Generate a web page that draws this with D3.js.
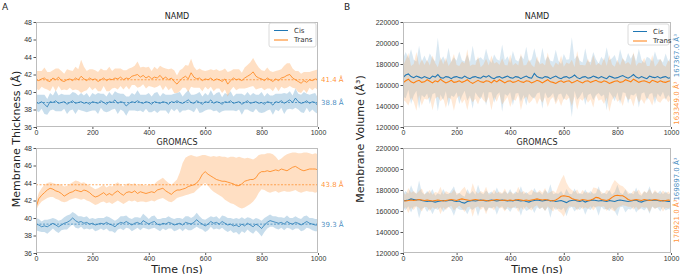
<!DOCTYPE html>
<html>
<head>
<meta charset="utf-8">
<title>Membrane thickness and volume</title>
<style>
  body { margin: 0; background: #fff; }
  svg { display: block; font-family: "DejaVu Sans", sans-serif; }
  .tick text { font-size: 7px; fill: #333; }
  .tick line { stroke: #555; }
  .frame { fill: none; stroke: #bdbdbd; stroke-width: 1; }
  .title { font-size: 8px; fill: #222; }
  .axlabel { font-size: 11px; fill: #222; }
  .panel { font-size: 9px; fill: #222; }
  .legend text { font-size: 7px; fill: #333; }
</style>
</head>
<body>
<div id="chart"></div>
<script src="https://cdnjs.cloudflare.com/ajax/libs/d3/7.8.5/d3.min.js"></script>
<script>

// sampling grid, ns
var timeNs = d3.range(0, 1001, 10);
var thicknessTicks = [36, 38, 40, 42, 44, 46, 48];
var volumeTicks = [120000, 140000, 160000, 180000, 200000, 220000];
var timeTicks = [0, 200, 400, 600, 800, 1000];
var seriesNames = ["Cis", "Trans"];

// A - NAMD thickness (Å)
var namdCisThick = [
  38.8, 38.7, 38.9, 38.6, 38.3, 38.9, 38.8, 39.0, 38.7, 38.8,
  38.9, 38.6, 38.8, 39.0, 38.7, 38.8, 38.9, 38.7, 38.8, 38.6,
  38.9, 38.8, 38.7, 39.0, 38.8, 38.6, 38.9, 38.8, 39.1, 38.7,
  38.9, 38.8, 38.4, 38.7, 38.9, 38.8, 39.0, 38.8, 38.7, 38.9,
  38.8, 38.6, 38.9, 38.8, 38.7, 38.9, 38.8, 38.6, 38.9, 38.8,
  39.0, 38.8, 38.7, 38.9, 39.1, 38.8, 38.7, 39.0, 38.8, 38.6,
  38.9, 38.8, 39.1, 38.7, 38.9, 38.8, 38.6, 38.9, 38.8, 39.0,
  38.7, 38.8, 38.9, 38.6, 38.8, 39.0, 38.7, 38.8, 38.9, 38.7,
  38.8, 38.6, 38.9, 38.8, 38.5, 38.9, 38.8, 39.0, 38.7, 38.9,
  39.1, 38.8, 39.3, 38.9, 38.7, 38.8, 39.0, 38.7, 38.9, 38.8, 38.4
];
var namdCisThickSd = [
  0.9, 1.0, 0.8, 1.1, 0.9, 1.0, 0.8, 1.2, 0.9, 1.0,
  0.8, 1.1, 0.9, 1.0, 1.2, 0.8, 1.0, 0.9, 1.1, 0.8,
  1.0, 0.9, 1.2, 0.8, 1.0, 0.9, 1.1, 0.8, 1.0, 1.2,
  0.9, 1.0, 1.1, 0.8, 1.0, 0.9, 1.2, 0.9, 1.0, 0.8,
  1.1, 0.9, 1.0, 1.2, 0.8, 1.0, 0.9, 1.1, 0.8, 1.0,
  0.9, 1.2, 0.8, 1.0, 1.1, 0.9, 1.0, 0.8, 1.2, 0.9,
  1.0, 0.8, 1.1, 0.9, 1.0, 1.2, 0.8, 1.0, 0.9, 1.1,
  0.8, 1.0, 0.9, 1.2, 0.8, 1.0, 0.9, 1.1, 0.8, 1.0,
  1.2, 0.9, 1.0, 0.8, 1.1, 0.9, 1.0, 0.8, 1.2, 0.9,
  1.0, 0.8, 1.1, 0.9, 1.0, 1.2, 0.8, 1.0, 0.9, 1.1, 0.9
];
var namdTransThick = [
  41.4, 41.3, 41.5, 41.6, 41.3, 41.2, 41.6, 41.4, 41.7, 41.3,
  41.2, 41.4, 41.5, 41.3, 41.6, 41.4, 41.8, 41.5, 41.3, 41.6,
  41.4, 41.5, 41.2, 41.4, 41.6, 41.3, 41.5, 41.4, 41.6, 41.5,
  41.7, 41.4, 41.6, 41.5, 41.8, 41.9, 42.0, 41.7, 41.9, 41.6,
  41.8, 41.5, 41.7, 41.6, 41.9, 41.5, 41.7, 41.4, 41.6, 41.2,
  40.9, 41.3, 41.6, 41.8, 41.5, 42.2, 41.7, 41.5, 41.6, 41.3,
  41.5, 41.4, 41.6, 41.3, 41.5, 41.4, 41.2, 41.5, 40.9, 41.3,
  41.6, 41.4, 41.5, 41.3, 41.6, 41.8, 42.0, 42.3, 41.8, 41.6,
  41.5, 41.3, 41.6, 41.4, 41.2, 41.5, 41.3, 41.6, 41.7, 41.9,
  42.0, 41.6, 41.4, 41.2, 41.0, 41.3, 41.1, 41.4, 41.3, 41.5, 41.4
];
var namdTransThickSd = [
  1.0, 1.1, 0.9, 1.2, 1.0, 1.1, 0.9, 1.3, 1.0, 1.1,
  0.9, 1.2, 1.0, 1.1, 1.3, 1.2, 1.9, 1.4, 1.1, 1.0,
  1.2, 1.0, 1.1, 1.3, 0.9, 1.2, 1.4, 1.0, 1.1, 1.2,
  1.0, 1.1, 0.9, 1.2, 1.0, 1.1, 1.5, 1.1, 1.0, 1.2,
  1.1, 0.9, 1.2, 1.0, 1.1, 1.3, 1.0, 1.2, 1.1, 1.3,
  1.0, 1.2, 1.1, 1.3, 1.5, 1.6, 1.2, 1.0, 1.1, 1.2,
  0.9, 1.1, 1.0, 1.2, 1.1, 1.0, 1.3, 1.2, 1.4, 1.1,
  1.0, 1.2, 1.1, 0.9, 1.2, 1.3, 1.4, 1.6, 1.5, 1.2,
  1.0, 1.1, 1.2, 1.0, 1.1, 0.9, 1.2, 1.0, 1.3, 1.4,
  1.3, 1.1, 1.0, 1.2, 1.1, 1.0, 1.2, 0.9, 1.1, 1.0, 1.2
];

// A - GROMACS thickness (Å)
var gmxCisThick = [
  39.3, 39.2, 39.0, 39.1, 39.0, 39.2, 39.4, 39.2, 39.0, 39.2,
  39.4, 39.5, 39.7, 40.0, 39.7, 39.5, 39.6, 39.4, 39.5, 39.3,
  39.4, 39.2, 39.3, 39.4, 39.3, 39.5, 39.3, 39.2, 39.0, 39.3,
  39.5, 39.4, 39.6, 39.4, 39.2, 39.4, 39.5, 39.3, 39.7, 39.5,
  39.3, 39.5, 39.6, 39.3, 39.2, 39.4, 39.3, 39.5, 39.4, 39.2,
  39.3, 39.4, 39.2, 39.5, 39.4, 39.3, 39.5, 39.8, 39.5, 39.3,
  39.1, 39.3, 39.6, 39.4, 39.5, 39.3, 39.6, 39.4, 39.2, 39.3,
  39.1, 39.2, 39.0, 39.3, 39.1, 39.4, 39.2, 39.0, 39.3, 39.1,
  38.8, 39.2, 39.5, 39.7, 39.6, 39.5, 39.4, 39.5, 39.3, 39.6,
  39.4, 39.3, 39.5, 39.4, 39.2, 39.4, 39.6, 39.4, 39.3, 39.2, 39.2
];
var gmxCisThickSd = [
  0.7, 0.7, 0.6, 0.7, 0.8, 0.7, 0.6, 0.7, 0.7, 0.6,
  0.7, 0.8, 0.7, 0.7, 0.8, 0.7, 0.6, 0.7, 0.7, 0.6,
  0.6, 0.7, 0.7, 0.6, 0.7, 0.7, 0.8, 0.7, 0.7, 0.6,
  0.7, 0.8, 0.7, 0.6, 0.7, 0.7, 0.6, 0.7, 0.8, 0.7,
  0.6, 0.7, 0.7, 0.6, 0.7, 0.6, 0.7, 0.7, 0.6, 0.7,
  0.7, 0.6, 0.7, 0.7, 0.8, 0.7, 0.7, 0.8, 0.7, 0.6,
  0.7, 0.7, 0.6, 0.7, 0.7, 0.6, 0.7, 0.8, 0.8, 0.7,
  0.8, 0.8, 0.9, 0.8, 0.8, 0.7, 0.8, 0.8, 0.7, 0.8,
  0.9, 0.8, 0.7, 0.7, 0.6, 0.7, 0.7, 0.6, 0.7, 0.7,
  0.6, 0.7, 0.7, 0.6, 0.7, 0.8, 0.7, 0.6, 0.7, 0.7, 0.7
];
var gmxTransThick = [
  41.2, 42.2, 42.6, 42.9, 43.2, 43.4, 43.3, 43.1, 43.0, 42.8,
  42.5, 42.7, 42.9, 43.0, 43.2, 43.1, 43.0, 43.2, 43.1, 42.9,
  42.6, 42.4, 42.5, 42.7, 42.9, 42.6, 42.8, 42.6, 42.9, 43.1,
  42.8, 42.6, 42.9, 43.0, 42.9, 43.1, 42.8, 43.0, 42.9, 42.8,
  42.9, 43.0, 42.9, 43.2, 43.3, 43.4, 43.1, 42.9, 42.7, 43.0,
  43.2, 43.2, 43.3, 43.4, 43.6, 43.7, 43.8, 44.0, 44.4, 45.0,
  45.3, 45.0, 44.8, 44.6, 44.4, 44.3, 44.2, 44.2, 44.1, 44.0,
  43.9, 43.7, 43.7, 43.9, 44.2, 44.3, 44.4, 44.4, 44.6, 45.1,
  45.3, 45.3, 45.4, 45.3, 45.4, 45.5, 45.4, 45.6, 45.5, 45.4,
  45.6, 45.8, 45.9, 45.7, 45.5, 45.4, 45.5, 45.6, 45.6, 45.6, 45.5
];
var gmxTransThickLo = [
  40.9, 41.5, 41.9, 42.1, 42.3, 42.4, 42.4, 42.2, 42.1, 41.9,
  41.8, 41.9, 42.1, 42.2, 42.3, 42.2, 42.1, 42.2, 42.0, 41.9,
  41.7, 41.5, 41.6, 41.8, 41.9, 41.7, 41.8, 41.6, 41.8, 42.0,
  41.8, 41.6, 41.8, 42.0, 41.9, 42.0, 41.8, 41.9, 41.9, 41.8,
  41.9, 42.0, 41.9, 42.1, 42.2, 42.3, 42.1, 41.9, 41.8, 42.0,
  42.3, 42.4, 42.5, 42.6, 42.7, 42.8, 42.9, 43.2, 43.5, 43.8,
  44.0, 43.7, 43.3, 43.0, 42.8, 42.6, 42.4, 42.1, 41.9, 41.7,
  41.6, 41.4, 41.2, 41.1, 41.2, 41.4, 41.6, 41.9, 42.3, 42.9,
  43.3, 43.2, 43.0, 42.9, 43.0, 43.1, 42.9, 43.0, 43.1, 43.0,
  43.0, 43.1, 43.2, 43.0, 42.9, 43.0, 43.1, 43.0, 43.0, 42.9, 43.0
];
var gmxTransThickHi = [
  41.8, 42.9, 43.4, 43.8, 44.0, 44.1, 44.0, 43.9, 43.9, 43.8,
  43.6, 43.7, 43.9, 44.1, 44.3, 44.2, 44.0, 44.1, 43.9, 43.7,
  43.5, 43.3, 43.4, 43.6, 43.8, 43.5, 43.7, 43.6, 43.9, 44.1,
  43.8, 43.6, 43.9, 44.0, 43.8, 44.0, 43.7, 43.9, 43.8, 43.7,
  43.8, 43.9, 43.9, 44.2, 44.4, 44.6, 44.3, 44.0, 43.8, 44.1,
  44.4, 45.2, 46.3, 46.9, 47.1, 47.2, 47.1, 47.0, 47.1, 47.2,
  47.2, 47.1, 47.0, 47.1, 47.0, 47.1, 47.0, 47.0, 46.9, 47.0,
  47.0, 46.9, 47.0, 46.9, 46.8, 46.9, 46.8, 46.7, 46.9, 47.2,
  47.3, 47.3, 47.4, 47.4, 47.3, 47.0, 46.6, 46.8, 47.1, 47.3,
  47.4, 47.5, 47.5, 47.4, 47.4, 47.5, 47.5, 47.4, 47.3, 47.4, 47.3
];

// B - NAMD volume (Å³)
var namdCisVol = [
  167000, 169500, 170500, 168000, 167000, 168500, 167500, 166500, 168000, 167000,
  166000, 168500, 167500, 170000, 167000, 166500, 168000, 167500, 166000, 167500,
  168000, 167000, 166500, 168500, 167000, 166000, 167500, 168000, 167000, 166500,
  168500, 167500, 169000, 167000, 166000, 167500, 168000, 166500, 167500, 168500,
  167000, 166500, 168000, 167500, 166000, 167500, 168500, 167000, 166500, 171000,
  168000, 167000, 166500, 168000, 167500, 166000, 167500, 168500, 167000, 166000,
  167500, 168000, 166500, 167500, 169500, 167000, 166000, 167500, 168000, 166500,
  167000, 168500, 167500, 166500, 168000, 167000, 166000, 168500, 167500, 166500,
  167000, 168000, 169000, 167500, 166500, 168000, 170000, 167500, 166500, 168000,
  167000, 166000, 168500, 167500, 167000, 168000, 166500, 167500, 168000, 166500, 167000
];
var namdCisVolSd = [
  18000, 22000, 15000, 26000, 17000, 14000, 30000, 16000, 20000, 15000,
  24000, 17000, 15000, 35000, 16000, 21000, 14000, 28000, 16000, 19000,
  15000, 25000, 17000, 14000, 22000, 16000, 30000, 15000, 18000, 20000,
  15000, 27000, 16000, 14000, 23000, 17000, 15000, 32000, 16000, 19000,
  14000, 26000, 16000, 15000, 22000, 17000, 28000, 15000, 18000, 24000,
  16000, 14000, 29000, 15000, 20000, 17000, 15000, 25000, 16000, 14000,
  22000, 16000, 18000, 38000, 15000, 21000, 17000, 14000, 27000, 16000,
  15000, 23000, 17000, 14000, 19000, 16000, 30000, 15000, 18000, 22000,
  14000, 26000, 16000, 15000, 24000, 17000, 20000, 15000, 28000, 16000,
  14000, 21000, 17000, 15000, 25000, 16000, 18000, 14000, 22000, 16000, 20000
];
var namdTransVol = [
  162000, 164000, 165500, 163000, 162000, 163500, 164500, 162500, 163000, 165000,
  163500, 162000, 164000, 163000, 165500, 163500, 162000, 163000, 164500, 162500,
  163000, 164000, 162500, 163500, 165000, 163000, 161500, 163000, 164500, 163000,
  162500, 164000, 163500, 162000, 164500, 163000, 165000, 163500, 162000, 163500,
  164000, 162500, 163000, 164500, 163000, 162500, 164000, 163500, 162000, 163000,
  164500, 163500, 162000, 163500, 165000, 163000, 162500, 161500, 163000, 164000,
  162500, 163500, 164000, 162000, 163000, 164500, 163000, 162000, 163500, 164000,
  162500, 163500, 164500, 163000, 162500, 164000, 163000, 161500, 162500, 163500,
  164000, 162500, 163000, 165000, 164000, 163000, 165500, 164000, 162500, 163500,
  164000, 163000, 162000, 164500, 163500, 162500, 164000, 163000, 162500, 163500, 164000
];
var namdTransVolSd = [
  16000, 20000, 25000, 15000, 18000, 28000, 14000, 22000, 16000, 19000,
  15000, 26000, 17000, 14000, 21000, 16000, 24000, 15000, 18000, 27000,
  16000, 14000, 20000, 17000, 29000, 15000, 18000, 16000, 23000, 14000,
  17000, 21000, 15000, 26000, 16000, 19000, 14000, 22000, 17000, 15000,
  25000, 16000, 18000, 14000, 27000, 16000, 15000, 21000, 17000, 14000,
  23000, 16000, 19000, 15000, 26000, 17000, 14000, 20000, 16000, 24000,
  15000, 18000, 16000, 22000, 14000, 28000, 16000, 17000, 15000, 21000,
  16000, 25000, 14000, 18000, 16000, 22000, 15000, 27000, 17000, 14000,
  20000, 16000, 23000, 15000, 18000, 16000, 26000, 14000, 19000, 17000,
  22000, 15000, 16000, 24000, 14000, 18000, 21000, 16000, 15000, 20000, 17000
];

// B - GROMACS volume (Å³)
var gmxCisVol = [
  169500, 170000, 170500, 171500, 171000, 170500, 171000, 170000, 169500, 169000,
  169500, 169000, 168500, 169000, 169500, 170000, 169500, 170000, 170500, 169500,
  169000, 169500, 168000, 167500, 169000, 169500, 170000, 169500, 170000, 170500,
  170000, 169500, 170000, 170500, 170000, 169500, 170000, 170500, 170000, 169500,
  170000, 169500, 170500, 170000, 169500, 170000, 169000, 168500, 169500, 170000,
  170500, 170000, 169500, 170000, 170500, 169500, 170000, 169000, 169500, 170000,
  169000, 168000, 169500, 170000, 170500, 169500, 169000, 170000, 168500, 169500,
  170000, 170500, 170000, 169500, 170000, 169500, 169000, 170000, 169500, 169000,
  170000, 170500, 170000, 169500, 169000, 169500, 170000, 170500, 169000, 168500,
  169500, 170000, 170500, 170000, 170500, 170000, 169500, 170000, 169500, 169000, 169000
];
var gmxCisVolSd = [
  7000, 9000, 6000, 13000, 7000, 6000, 18000, 8000, 6000, 10000,
  7000, 12000, 6000, 8000, 6000, 11000, 7000, 6000, 9000, 14000,
  6000, 8000, 7000, 6000, 12000, 7000, 9000, 6000, 15000, 7000,
  6000, 10000, 7000, 8000, 6000, 13000, 7000, 6000, 9000, 7000,
  11000, 6000, 8000, 7000, 14000, 6000, 9000, 7000, 6000, 12000,
  7000, 8000, 6000, 10000, 7000, 16000, 6000, 8000, 7000, 9000,
  6000, 13000, 7000, 6000, 11000, 7000, 8000, 6000, 12000, 7000,
  9000, 6000, 7000, 14000, 6000, 8000, 7000, 10000, 6000, 9000,
  15000, 7000, 6000, 11000, 7000, 8000, 6000, 12000, 7000, 6000,
  9000, 7000, 13000, 6000, 8000, 7000, 10000, 6000, 9000, 7000, 8000
];
var gmxTransVol = [
  170000, 169500, 170000, 170500, 170000, 170500, 171000, 170500, 170000, 170500,
  170000, 169500, 170000, 170500, 170000, 169500, 170000, 170500, 171000, 170500,
  170000, 171000, 171500, 171000, 170500, 170000, 170500, 171000, 170500, 170000,
  170500, 170000, 169500, 170000, 170500, 171000, 170500, 170000, 170500, 170000,
  170500, 170000, 170500, 171000, 170500, 170000, 170500, 170000, 170500, 171000,
  171500, 171000, 170500, 171000, 170500, 170000, 169500, 170500, 172000, 174000,
  174500, 174000, 173500, 172000, 171000, 170500, 170000, 171000, 170500, 170000,
  170500, 171500, 173000, 172500, 171000, 170500, 170000, 171000, 173000, 174500,
  175000, 174500, 174500, 173000, 171000, 170000, 170500, 171000, 170500, 170000,
  171000, 170500, 170000, 170500, 171000, 170500, 170000, 169500, 170000, 170500, 170000
];
var gmxTransVolSd = [
  8000, 6000, 12000, 7000, 9000, 6000, 8000, 11000, 6000, 7000,
  10000, 6000, 8000, 7000, 13000, 6000, 9000, 7000, 6000, 10000,
  7000, 6000, 9000, 12000, 7000, 6000, 16000, 8000, 6000, 9000,
  7000, 13000, 6000, 7000, 10000, 6000, 8000, 7000, 11000, 6000,
  8000, 7000, 6000, 12000, 7000, 9000, 6000, 8000, 10000, 7000,
  6000, 9000, 7000, 11000, 6000, 8000, 10000, 7000, 12000, 16000,
  20000, 13000, 9000, 8000, 7000, 10000, 6000, 9000, 7000, 8000,
  6000, 11000, 9000, 8000, 7000, 6000, 10000, 8000, 12000, 15000,
  12000, 10000, 9000, 8000, 7000, 6000, 9000, 7000, 10000, 6000,
  8000, 7000, 11000, 6000, 9000, 7000, 6000, 10000, 7000, 8000, 6000
];

// averages printed next to each plot: [cis, trans]
var namdThickMeans = [38.8, 41.4];
var gmxThickMeans = [39.3, 43.8];
var namdVolMeans = [167367.0, 163349.0];
var gmxVolMeans = [169897.0, 170921.0];

var blue = "#1f77b4", orange = "#ff7f0e";

var svg = d3.select("#chart").append("svg")
  .attr("width", 680)
  .attr("height", 274);

function rows(mean, sd, lo, hi) {
  return timeNs.map(function(t, i) {
    return {
      t: t,
      v: mean[i],
      lo: lo ? lo[i] : mean[i] - sd[i],
      hi: hi ? hi[i] : mean[i] + sd[i]
    };
  });
}

function drawPlot(p) {
  var x = d3.scaleLinear().domain([0, 1000]).range([p.left, p.right]);
  var y = d3.scaleLinear().domain(p.yDomain).range([p.bottom, p.top]);
  var g = svg.append("g");

  var clipId = "clip" + p.id;
  svg.append("clipPath").attr("id", clipId)
    .append("rect")
    .attr("x", p.left).attr("y", p.top)
    .attr("width", p.right - p.left).attr("height", p.bottom - p.top);

  var plot = g.append("g").attr("clip-path", "url(#" + clipId + ")");

  var area = d3.area()
    .x(function(d) { return x(d.t); })
    .y0(function(d) { return y(d.lo); })
    .y1(function(d) { return y(d.hi); });
  var line = d3.line()
    .x(function(d) { return x(d.t); })
    .y(function(d) { return y(d.v); });

  p.series.forEach(function(s) {
    plot.append("path")
      .datum(s.data)
      .attr("d", area)
      .attr("fill", s.color)
      .attr("fill-opacity", p.bandOpacity);
  });

  if (p.dashed) {
    p.series.forEach(function(s) {
      plot.append("line")
        .attr("x1", p.left).attr("x2", p.right)
        .attr("y1", y(s.mean)).attr("y2", y(s.mean))
        .attr("stroke", s.color)
        .attr("stroke-opacity", 0.8)
        .attr("stroke-width", 0.8)
        .attr("stroke-dasharray", "2,1.5");
    });
  }

  p.series.forEach(function(s) {
    plot.append("path")
      .datum(s.data)
      .attr("d", line)
      .attr("fill", "none")
      .attr("stroke", s.color)
      .attr("stroke-opacity", p.lineOpacity)
      .attr("stroke-width", p.lineWidth);
  });

  g.append("g")
    .attr("transform", "translate(0," + p.bottom + ")")
    .call(d3.axisBottom(x).tickValues(timeTicks).tickSize(2).tickPadding(1).tickFormat(d3.format("d")))
    .call(function(a) { a.select(".domain").remove(); });

  g.append("g")
    .attr("transform", "translate(" + p.left + ",0)")
    .call(d3.axisLeft(y).tickValues(p.yTicks).tickSize(2.5).tickPadding(1.5).tickFormat(d3.format("d")))
    .call(function(a) { a.select(".domain").remove(); });

  g.append("rect")
    .attr("class", "frame")
    .attr("x", p.left + 0.5).attr("y", p.top + 0.5)
    .attr("width", p.right - p.left - 1).attr("height", p.bottom - p.top - 1);

  g.append("text")
    .attr("class", "title")
    .attr("x", (p.left + p.right) / 2)
    .attr("y", p.top - 3)
    .attr("text-anchor", "middle")
    .text(p.title);

  // mean value labels
  p.series.forEach(function(s, i) {
    if (p.kind === "thick") {
      g.append("text")
        .attr("x", p.right + 3)
        .attr("y", y(s.mean))
        .attr("dy", "0.35em")
        .attr("font-size", "7px")
        .attr("fill", s.color)
        .attr("fill-opacity", 0.85)
        .text(s.mean.toFixed(1) + " Å");
    } else {
      g.append("text")
        .attr("transform", "translate(" + (p.right + 8) + "," + y(s.mean) + ") rotate(-90)")
        .attr("text-anchor", i === 0 ? "start" : "end")
        .attr("font-size", "7px")
        .attr("fill", s.color)
        .attr("fill-opacity", 0.85)
        .text(s.mean.toFixed(1) + " Å³");
    }
  });

  if (p.legend) {
    var lg = g.append("g").attr("class", "legend");
    lg.append("rect")
      .attr("x", p.legend.x).attr("y", p.legend.y)
      .attr("width", p.legend.w).attr("height", p.legend.h)
      .attr("rx", 2)
      .attr("fill", "#fff").attr("fill-opacity", 0.85)
      .attr("stroke", "#d0d0d0").attr("stroke-width", 0.8);
    p.series.forEach(function(s, i) {
      var ly = p.legend.y + 7.5 + i * 9.5;
      lg.append("line")
        .attr("x1", p.legend.x + 5).attr("x2", p.legend.x + 19)
        .attr("y1", ly).attr("y2", ly)
        .attr("stroke", s.color).attr("stroke-width", 1);
      lg.append("text")
        .attr("x", p.legend.x + 25).attr("y", ly)
        .attr("dy", "0.35em")
        .text(seriesNames[i]);
    });
  }
}

var plots = [
  { id: "a1", kind: "thick", title: "NAMD", left: 36, right: 318, top: 22, bottom: 127,
    yDomain: [36, 48], yTicks: thicknessTicks, dashed: true,
    bandOpacity: 0.25, lineOpacity: 0.85, lineWidth: 0.9,
    legend: { x: 269, y: 23, w: 47, h: 24 },
    series: [
      { color: blue, mean: namdThickMeans[0], data: rows(namdCisThick, namdCisThickSd) },
      { color: orange, mean: namdThickMeans[1], data: rows(namdTransThick, namdTransThickSd) }
    ] },
  { id: "a2", kind: "thick", title: "GROMACS", left: 36, right: 318, top: 148, bottom: 253,
    yDomain: [36, 48], yTicks: thicknessTicks, dashed: true,
    bandOpacity: 0.25, lineOpacity: 0.85, lineWidth: 0.9,
    series: [
      { color: blue, mean: gmxThickMeans[0], data: rows(gmxCisThick, gmxCisThickSd) },
      { color: orange, mean: gmxThickMeans[1], data: rows(gmxTransThick, null, gmxTransThickLo, gmxTransThickHi) }
    ] },
  { id: "b1", kind: "vol", title: "NAMD", left: 403, right: 671, top: 22, bottom: 127,
    yDomain: [120000, 220000], yTicks: volumeTicks, dashed: false,
    bandOpacity: 0.17, lineOpacity: 1, lineWidth: 1.1,
    legend: { x: 628, y: 24, w: 41, h: 21 },
    series: [
      { color: blue, mean: namdVolMeans[0], data: rows(namdCisVol, namdCisVolSd) },
      { color: orange, mean: namdVolMeans[1], data: rows(namdTransVol, namdTransVolSd) }
    ] },
  { id: "b2", kind: "vol", title: "GROMACS", left: 403, right: 671, top: 148, bottom: 253,
    yDomain: [120000, 220000], yTicks: volumeTicks, dashed: false,
    bandOpacity: 0.17, lineOpacity: 1, lineWidth: 1.1,
    series: [
      { color: blue, mean: gmxVolMeans[0], data: rows(gmxCisVol, gmxCisVolSd) },
      { color: orange, mean: gmxVolMeans[1], data: rows(gmxTransVol, gmxTransVolSd) }
    ] }
];

plots.forEach(drawPlot);

// axis titles and panel letters
svg.append("text").attr("class", "axlabel")
  .attr("transform", "translate(20,139) rotate(-90)")
  .attr("text-anchor", "middle")
  .text("Membrane Thickness (Å)");
svg.append("text").attr("class", "axlabel")
  .attr("transform", "translate(364,139) rotate(-90)")
  .attr("text-anchor", "middle")
  .text("Membrane Volume (Å³)");
svg.append("text").attr("class", "axlabel")
  .attr("x", 177).attr("y", 272.5).attr("text-anchor", "middle")
  .text("Time (ns)");
svg.append("text").attr("class", "axlabel")
  .attr("x", 537).attr("y", 272.5).attr("text-anchor", "middle")
  .text("Time (ns)");
svg.append("text").attr("class", "panel").attr("x", 2).attr("y", 10).text("A");
svg.append("text").attr("class", "panel").attr("x", 344).attr("y", 10).text("B");

</script>
</body>
</html>
